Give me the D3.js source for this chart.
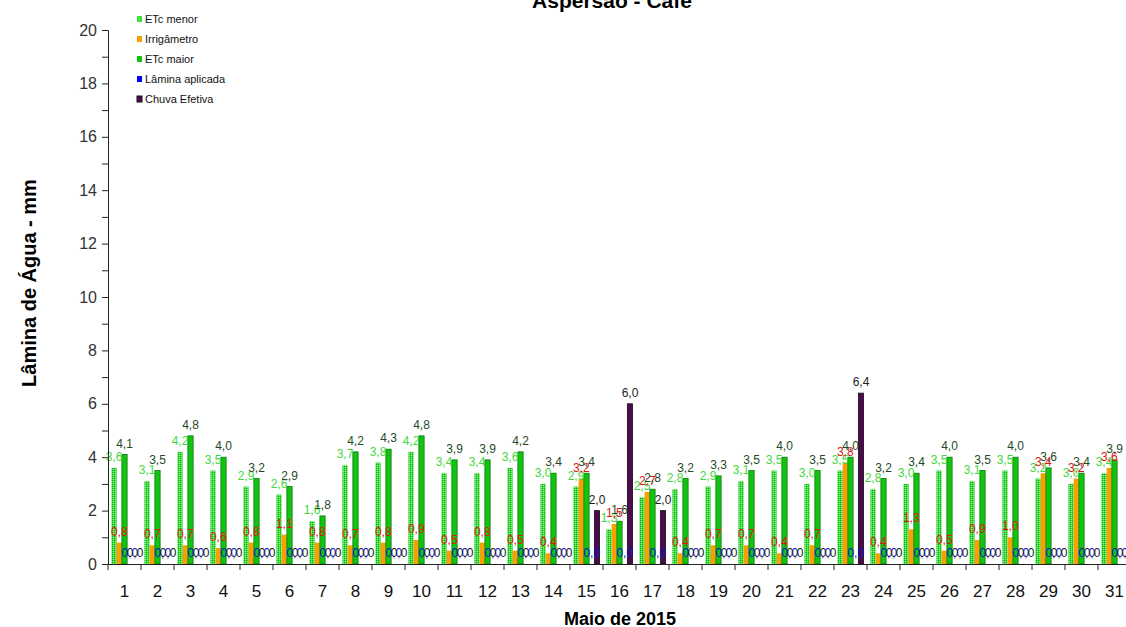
<!DOCTYPE html>
<html>
<head>
<meta charset="utf-8">
<script src="https://cdn.jsdelivr.net/npm/d3@7"></script>
<style>
  body { margin: 0; background: #fff; }
  text { font-family: "Liberation Sans", Arial, sans-serif; }
</style>
</head>
<body>
<div id="chart"></div>
<script>
// data (mm)
var days = ["1","2","3","4","5","6","7","8","9","10","11","12","13","14","15","16",
            "17","18","19","20","21","22","23","24","25","26","27","28","29","30","31"];
var etcMenor = [3.6,3.1,4.2,3.5,2.9,2.6,1.6,3.7,3.8,4.2,3.4,3.4,3.6,3.0,2.9,1.3,
                2.5,2.8,2.9,3.1,3.5,3.0,3.5,2.8,3.0,3.5,3.1,3.5,3.2,3.0,3.4];
var irrigametro = [0.8,0.7,0.7,0.6,0.8,1.1,0.8,0.7,0.8,0.9,0.5,0.8,0.5,0.4,3.2,1.5,
                   2.7,0.4,0.7,0.7,0.4,0.7,3.8,0.4,1.3,0.5,0.9,1.0,3.4,3.2,3.6];
var etcMaior = [4.1,3.5,4.8,4.0,3.2,2.9,1.8,4.2,4.3,4.8,3.9,3.9,4.2,3.4,3.4,1.6,
                2.8,3.2,3.3,3.5,4.0,3.5,4.0,3.2,3.4,4.0,3.5,4.0,3.6,3.4,3.9];
var laminaAplicada = [0,0,0,0,0,0,0,0,0,0,0,0,0,0,0,0,
                      0,0,0,0,0,0,0,0,0,0,0,0,0,0,0];
var chuvaEfetiva = [0,0,0,0,0,0,0,0,0,0,0,0,0,0,2.0,6.0,
                    2.0,0,0,0,0,0,6.4,0,0,0,0,0,0,0,0];
var yTicks = [0,2,4,6,8,10,12,14,16,18,20];

var series = [
  {key: "ETc menor", values: etcMenor, fill: "url(#dots)", stroke: "none", label: "#3fd83f"},
  {key: "Irrigâmetro", values: irrigametro, fill: "#f7a000", stroke: "none", label: "#e01515"},
  {key: "ETc maior", values: etcMaior, fill: "#12c412", stroke: "#067a06", label: "#1f4a1f"},
  {key: "Lâmina aplicada", values: laminaAplicada, fill: "#0000ff", stroke: "none", label: "#1010d0"},
  {key: "Chuva Efetiva", values: chuvaEfetiva, fill: "#4e0a4e", stroke: "#111", label: "#222"}
];

var width = 1126, height = 627;
var fmt = function(v) { return d3.format(".1f")(v).replace(".", ","); };

var svg = d3.select("#chart").append("svg")
    .attr("width", width)
    .attr("height", height);

// dotted fill used by the "ETc menor" bars
var pat = svg.append("defs").append("pattern")
    .attr("id", "dots")
    .attr("width", 2).attr("height", 2)
    .attr("patternUnits", "userSpaceOnUse");
pat.append("rect").attr("width", 2).attr("height", 2).attr("fill", "#3ee03e");
pat.append("rect").attr("width", 1).attr("height", 1).attr("fill", "#1fa81f");
pat.append("rect").attr("x", 1).attr("y", 1).attr("width", 1).attr("height", 1).attr("fill", "#7cf57c");

var x0 = d3.scaleBand()
    .domain(days)
    .range([108, 1131])
    .paddingInner(0)
    .paddingOuter(0);

var x1 = d3.scaleBand()
    .domain(series.map(function(s) { return s.key; }))
    .range([0, x0.bandwidth()])
    .paddingInner(0)
    .paddingOuter(0.65);

var y = d3.scaleLinear()
    .domain([0, 20])
    .range([564, 30]);

// bars
series.forEach(function(s) {
  svg.append("g").selectAll("rect")
    .data(s.values)
   .enter()
    .append("rect")
    .attr("x", function(d, i) { return x0(days[i]) + x1(s.key); })
    .attr("width", x1.bandwidth())
    .attr("y", function(d) { return y(d); })
    .attr("height", function(d) { return y(0) - y(d); })
    .style("fill", s.fill)
    .style("stroke", s.stroke)
    .style("stroke-width", s.stroke == "none" ? 0 : 0.8);
});

// value labels
series.forEach(function(s) {
  svg.append("g").selectAll("text")
    .data(s.values)
   .enter()
    .append("text")
    .attr("x", function(d, i) { return x0(days[i]) + x1(s.key) + x1.bandwidth() / 2; })
    .attr("y", function(d) { return y(d) - 7; })
    .attr("text-anchor", "middle")
    .style("font-size", "12px")
    .style("fill", s.label)
    .text(function(d) { return fmt(d); });
});

// y axis
var yAxis = d3.axisLeft(y)
    .tickValues(d3.range(0, 21, 1))
    .tickSize(6)
    .tickFormat(function(d) { return yTicks.indexOf(d) >= 0 ? d : ""; });

svg.append("g")
    .attr("class", "y axis")
    .attr("transform", "translate(108,0)")
    .call(yAxis);

svg.select(".y.axis").selectAll("text")
    .attr("x", -11)
    .style("font-size", "16px")
    .style("fill", "#333");

// x axis
var xAxis = d3.axisBottom(x0).tickSize(0).tickPadding(21);

svg.append("g")
    .attr("class", "x axis")
    .attr("transform", "translate(0,564)")
    .call(xAxis);

svg.select(".x.axis").selectAll("text")
    .style("font-size", "17px")
    .style("fill", "#111");

// x tick marks sit between the days
svg.append("g").selectAll("line")
    .data(days)
   .enter()
    .append("line")
    .attr("x1", function(d) { return x0(d); })
    .attr("x2", function(d) { return x0(d); })
    .attr("y1", 564)
    .attr("y2", 570)
    .style("stroke", "#222");

svg.selectAll(".axis path").style("stroke", "#222");
svg.selectAll(".axis line").style("stroke", "#222");

// titles
svg.append("text")
    .attr("x", 612)
    .attr("y", 8)
    .attr("text-anchor", "middle")
    .style("font-size", "21px")
    .style("font-weight", "bold")
    .text("Aspersão - Café");

svg.append("text")
    .attr("x", 620)
    .attr("y", 625)
    .attr("text-anchor", "middle")
    .style("font-size", "18px")
    .style("font-weight", "bold")
    .text("Maio de 2015");

svg.append("text")
    .attr("transform", "translate(36,283) rotate(-90)")
    .attr("text-anchor", "middle")
    .style("font-size", "20px")
    .style("font-weight", "bold")
    .text("Lâmina de Água - mm");

// legend
var legend = svg.append("g").selectAll("g")
    .data(series)
   .enter()
    .append("g")
    .attr("transform", function(d, i) { return "translate(137," + (19 + i * 20) + ")"; });

legend.append("rect")
    .attr("x", 0)
    .attr("y", -3)
    .attr("width", 5)
    .attr("height", 6)
    .style("fill", function(d) { return d.key == "ETc menor" ? "#3ee03e" : d.fill; })
    .style("stroke", function(d) { return d.key == "Chuva Efetiva" ? "#111" : "none"; });

legend.append("text")
    .attr("x", 8)
    .attr("y", 4)
    .style("font-size", "11px")
    .style("fill", "#111")
    .text(function(d) { return d.key; });
</script>
</body>
</html>
